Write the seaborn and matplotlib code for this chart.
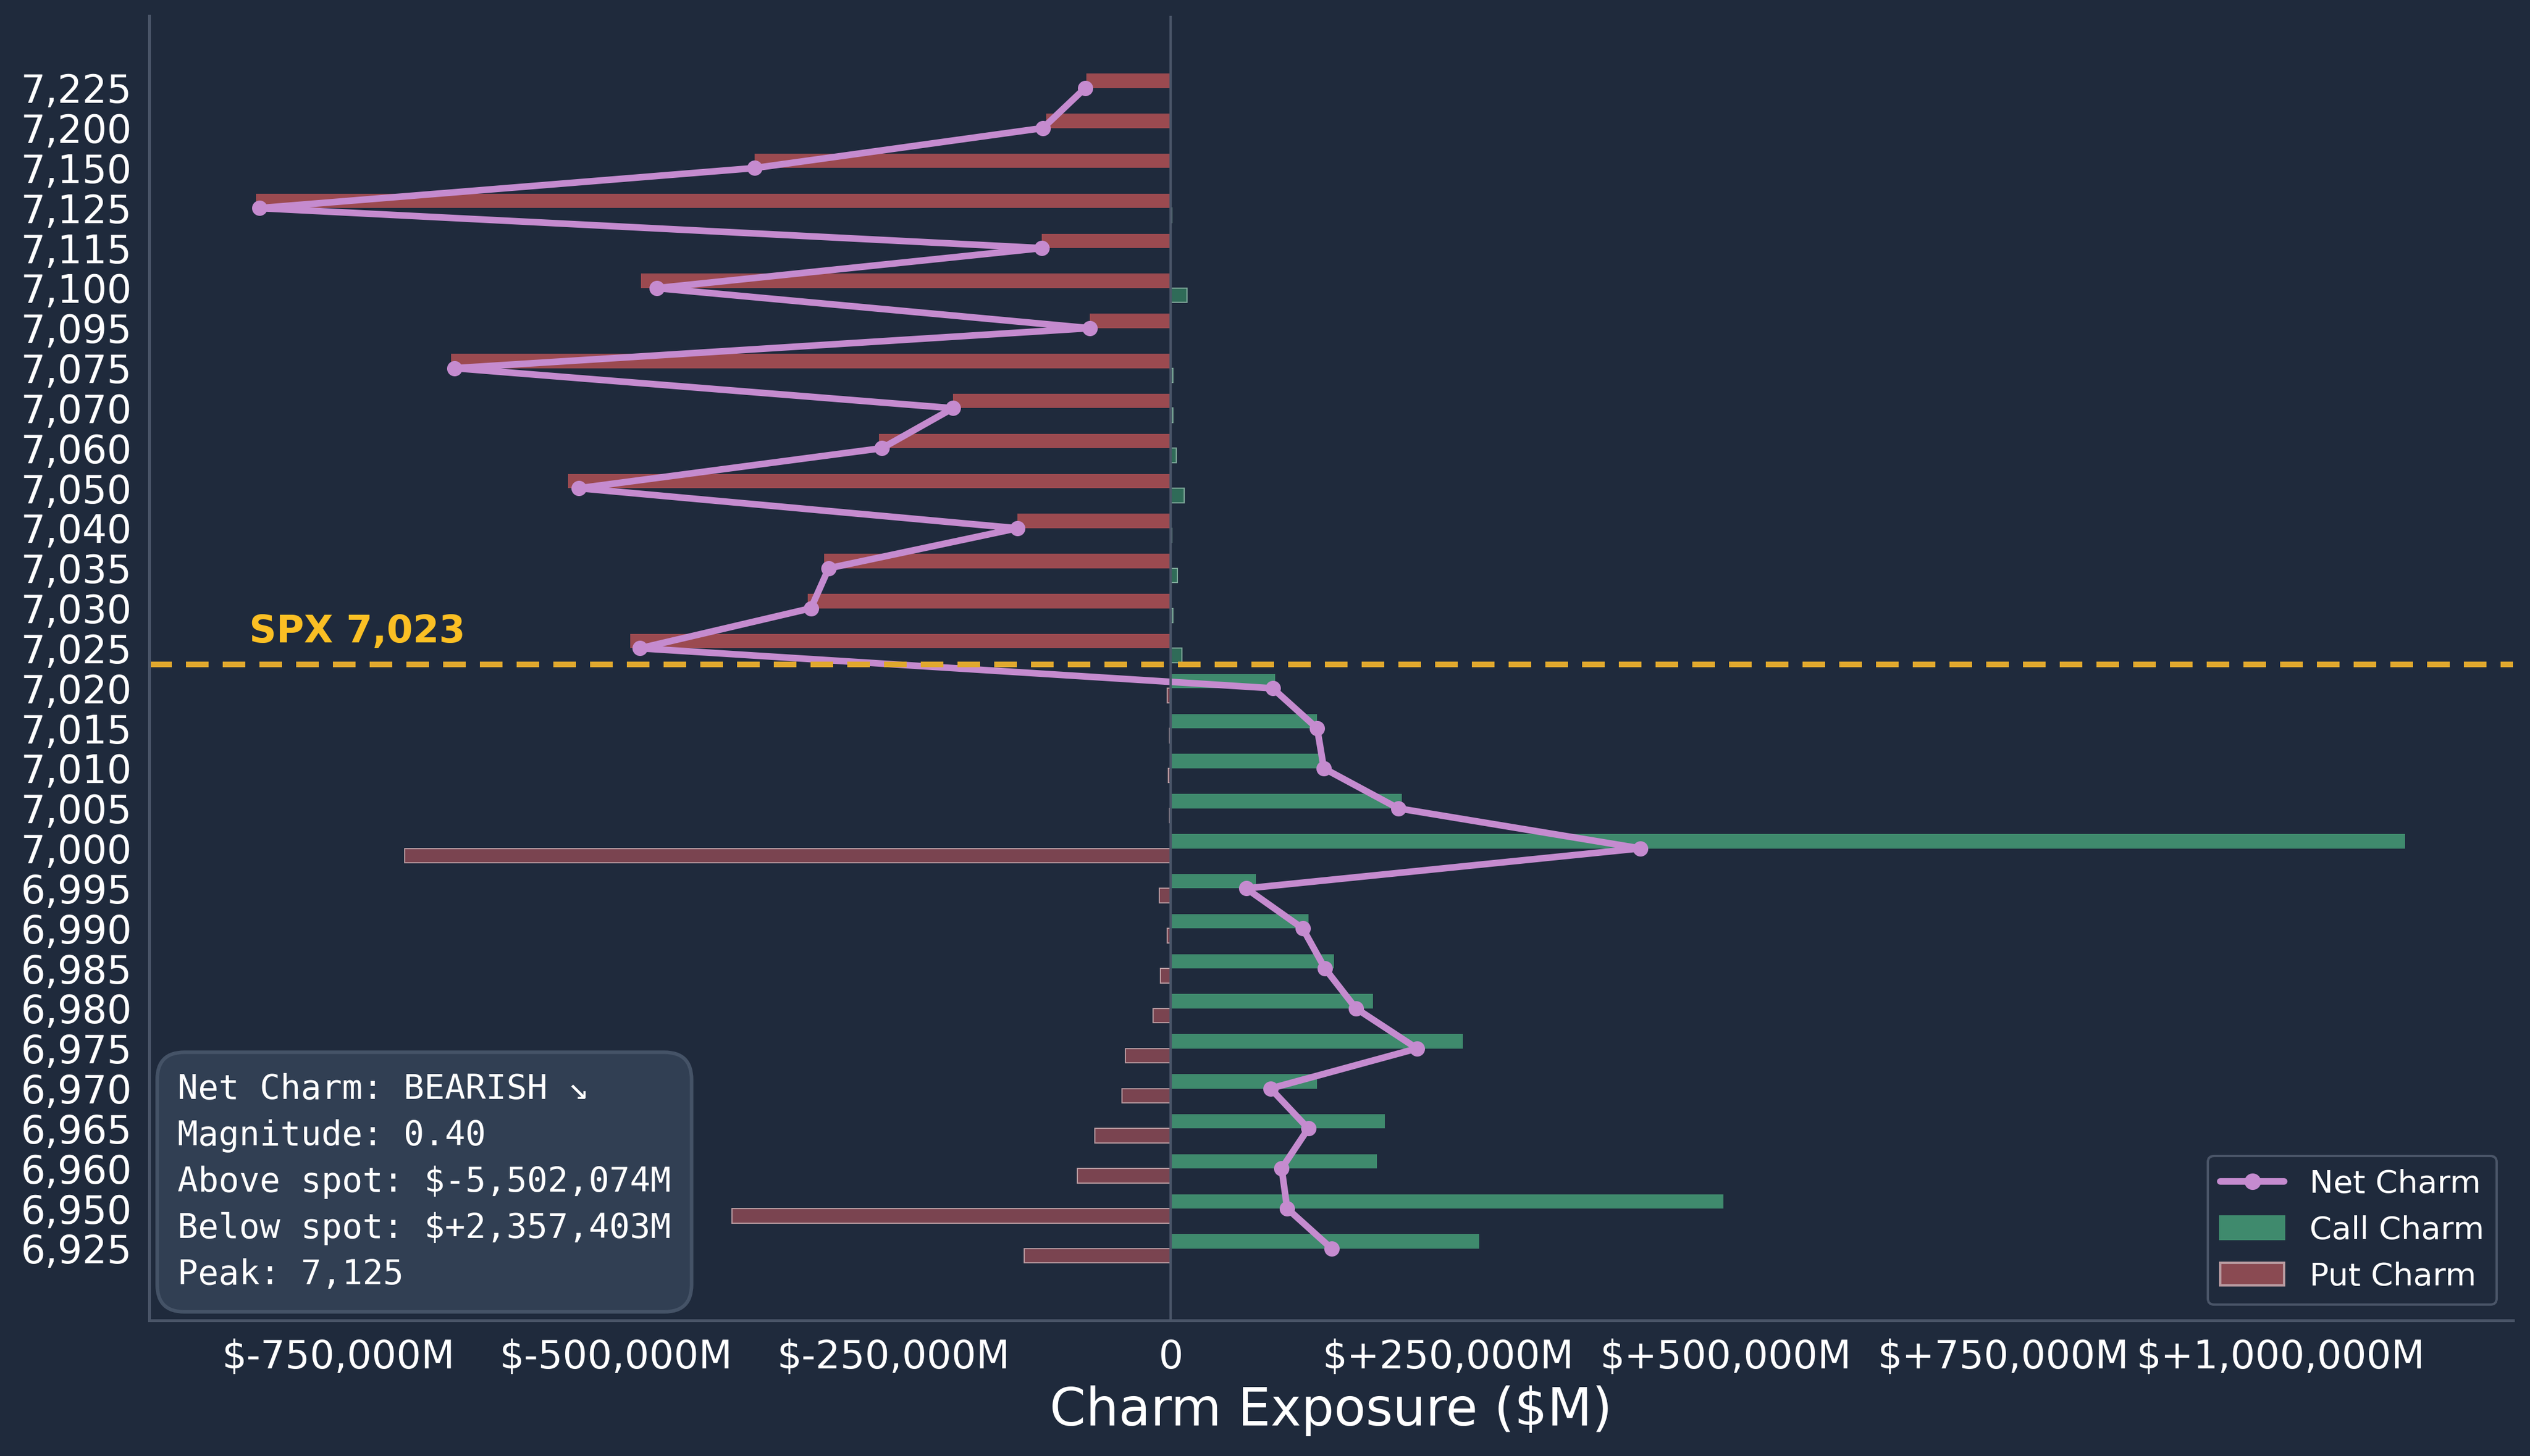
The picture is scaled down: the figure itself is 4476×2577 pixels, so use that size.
import numpy as np
import pandas as pd
import seaborn as sns
import matplotlib.pyplot as plt
from matplotlib.patches import Patch
from matplotlib.lines import Line2D

strikes = [7225, 7200, 7150, 7125, 7115, 7100, 7095, 7075, 7070, 7060, 7050, 7040, 7035, 7030, 7025,
           7020, 7015, 7010, 7005, 7000, 6995, 6990, 6985, 6980, 6975, 6970, 6965, 6960, 6950, 6925]
put_charm = [-76, -112, -375, -824, -116, -477, -73, -648, -196, -263, -543, -138, -312, -327, -487,
             -3, -1, -2, -1, -690, -10, -3, -9, -16, -41, -44, -68, -84, -395, -132]
call_charm = [0, 0, 0, 1, 0, 14.5, 0, 2, 2, 5, 12, 1, 6, 2, 10,
              94, 132, 138, 208, 1112, 77, 124, 147, 182, 263, 132, 193, 186, 498, 278]
net_charm = [-77, -115, -375, -821, -116, -463, -73, -645, -196, -260, -533, -138, -308, -324, -478,
             92, 132, 138, 205, 423, 68, 119, 139, 167, 222, 90, 124, 100, 105, 145]
spot = 7023
summary_lines = ["Net Charm: BEARISH \u2198", "Magnitude: 0.40", "Above spot: $-5,502,074M",
                 "Below spot: $+2,357,403M", "Peak: 7,125"]
xtick_labels = ["$-750,000M", "$-500,000M", "$-250,000M", "0", "$+250,000M", "$+500,000M",
                "$+750,000M", "$+1,000,000M"]

BG = "#1f2a3c"
RED = "#9b4a50"
GREEN = "#3f8a6d"
NET = "#c58bcf"
GRID = "#4a5568"

sns.set_style("dark", {"axes.facecolor": BG, "figure.facecolor": BG})
plt.rcParams['font.family'] = ['DejaVu Sans']

# scale to thousands of $M
df = pd.DataFrame({"strike": strikes, "put": np.array(put_charm) * 1000,
                   "call": np.array(call_charm) * 1000, "net": np.array(net_charm) * 1000})
df["pos"] = np.arange(len(df))
above = df["strike"] > spot

fig, ax = plt.subplots(figsize=(14.923, 8.59), dpi=300)
fig.subplots_adjust(left=0.059, right=0.993, top=0.989, bottom=0.093)
ax.set_facecolor(BG)

h = 0.36
ax.barh(df["pos"][above] - h / 2, df["put"][above], height=h, color=RED, lw=0)
ax.barh(df["pos"][above] + h / 2, df["call"][above], height=h, color="#2f6b58", edgecolor="#7fa89a", lw=0.5)
ax.barh(df["pos"][~above] + h / 2, df["put"][~above], height=h, color="#7a4450", edgecolor="#b89aa0", lw=0.5)
ax.barh(df["pos"][~above] - h / 2, df["call"][~above], height=h, color=GREEN, lw=0)

sns.lineplot(data=df, x="net", y="pos", sort=False, orient="y", color=NET, lw=2.8,
             marker="o", markersize=6.5, markeredgewidth=0, ax=ax)

spot_pos = 14 + (7025 - spot) / 5
ax.axhline(spot_pos, color="#e0a82e", ls="--", lw=2.4, dashes=(4, 2.5))
ax.text(-830000, spot_pos - 0.55, f"SPX {spot:,}", color="#fbbf24", fontsize=16, fontweight="bold")
ax.axvline(0, color=GRID, lw=1)

ax.set_ylim(30.8, -1.8)
ax.set_xlim(-920000, 1209000)
ax.set_yticks(df["pos"])
ax.set_yticklabels([f"{s:,}" for s in strikes])
ax.set_xticks([-750000, -500000, -250000, 0, 250000, 500000, 750000, 1000000])
ax.set_xticklabels(xtick_labels)
ax.tick_params(colors="white", labelsize=16.5, length=4, color="white")
ax.tick_params(axis="x", colors=GRID, labelcolor="white")
ax.set_xlabel("Charm Exposure ($M)", color="white", fontsize=22)
ax.set_ylabel("")
for s in ["top", "right"]:
    ax.spines[s].set_visible(False)
for s in ["left", "bottom"]:
    ax.spines[s].set_color(GRID)
    ax.spines[s].set_linewidth(1.2)

ax.text(0.012, 0.19, "\n".join(summary_lines), transform=ax.transAxes, va="top", ha="left",
        family="DejaVu Sans Mono", fontsize=14.5, color="white", linespacing=1.5,
        bbox=dict(boxstyle="round,pad=0.6,rounding_size=0.8", fc="#334155", ec="#475569", lw=1.5, alpha=0.95))

handles = [Line2D([0], [0], color=NET, lw=2.8, marker="o", markersize=6),
           Patch(color=GREEN), Patch(fc="#8a4a52", ec="#b89aa0")]
ax.legend(handles, ["Net Charm", "Call Charm", "Put Charm"], loc="lower right", fontsize=13.5,
          facecolor=BG, edgecolor=GRID, labelcolor="white", framealpha=1)

fig.savefig("out.png", dpi=300, facecolor=BG)
